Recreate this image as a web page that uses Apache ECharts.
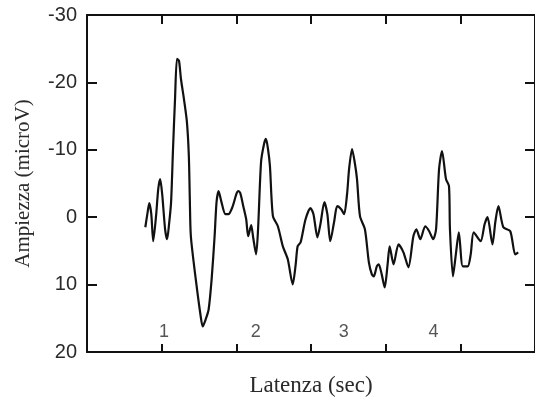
<!DOCTYPE html>
<html>
<head>
<meta charset="utf-8">
<script src="https://cdn.jsdelivr.net/npm/echarts@6/dist/echarts.min.js"></script>
<style>
  html, body { margin: 0; padding: 0; background: #fff; }
  #chart { width: 535px; height: 403px; }
</style>
</head>
<body>
<div id="chart"></div>
<script>
// Evoked potential trace: latency (axis ticks at 1 s steps) vs amplitude (microV, negative up)
const latency = [
  0.781, 0.808, 0.834, 0.861, 0.887, 0.927, 0.954, 0.980, 1.007, 1.046,
  1.073, 1.099, 1.126, 1.152, 1.179, 1.205, 1.232, 1.258, 1.298, 1.338,
  1.364, 1.377, 1.391, 1.457, 1.523, 1.550, 1.589, 1.629, 1.669, 1.709,
  1.735, 1.762, 1.801, 1.854, 1.894, 1.947, 2.000, 2.026, 2.053, 2.093,
  2.132, 2.159, 2.199, 2.225, 2.265, 2.291, 2.331, 2.371, 2.397, 2.424,
  2.450, 2.490, 2.556, 2.623, 2.689, 2.755, 2.795, 2.821, 2.861, 2.927,
  2.993, 3.033, 3.086, 3.126, 3.179, 3.219, 3.258, 3.311, 3.351, 3.404,
  3.444, 3.483, 3.510, 3.550, 3.589, 3.616, 3.656, 3.722, 3.775, 3.815,
  3.841, 3.881, 3.907, 3.947, 3.987, 4.026, 4.053, 4.106, 4.172, 4.238,
  4.305, 4.371, 4.411, 4.464, 4.530, 4.583, 4.636, 4.675, 4.715, 4.755,
  4.808, 4.848, 4.861, 4.901, 4.940, 4.980, 5.033, 5.099, 5.139, 5.179,
  5.272, 5.325, 5.364, 5.430, 5.470, 5.510, 5.576, 5.669, 5.735, 5.775
];
const amplitude = [
  1.49, -0.45, -2.08, -0.45, 3.57, -0.45, -4.17, -5.65, -3.42, 1.79,
  3.27, 1.04, -2.23, -10.12, -17.56, -23.51, -23.21, -20.54, -17.56, -14.14,
  -9.08, -2.68, 2.83, 9.23, 14.73, 16.22, 15.18, 13.69, 9.23, 2.83,
  -2.23, -3.87, -2.23, -0.45, -0.45, -1.49, -3.42, -3.87, -3.57, -1.64,
  0.30, 2.83, 1.19, 2.98, 5.51, 1.79, -8.18, -10.86, -11.61, -10.12,
  -7.59, -0.15, 1.34, 4.32, 6.25, 9.97, 6.99, 4.32, 3.72, 0.30,
  -1.34, -0.45, 2.98, 1.04, -2.23, -0.45, 3.57, 0.60, -1.64, -1.19,
  -0.45, -3.42, -7.14, -10.12, -7.89, -5.65, -0.15, 1.79, 6.70, 8.48,
  8.78, 7.29, 6.99, 8.48, 10.42, 6.99, 4.32, 6.99, 4.02, 5.21,
  7.44, 2.83, 1.79, 3.27, 1.34, 2.08, 3.27, 1.79, -7.14, -9.82,
  -5.65, -4.61, 1.79, 8.78, 5.51, 2.23, 7.29, 7.29, 5.51, 2.23,
  3.57, 1.04, 0.00, 4.02, 0.60, -1.64, 1.49, 2.08, 5.51, 5.21
];

// Wave numbers written under the peaks
const waveNames = ['1', '2', '3', '4'];
const waveNameX = [1.03, 2.26, 3.44, 4.64];
const waveNameY = [17.1, 17.1, 17.1, 17.1];

// Axis ranges and steps
const latencyRange = [0, 6, 1];
const amplitudeRange = [-30, 20, 10];

const trace = latency.map((t, i) => [t, amplitude[i]]);
const waveMarks = waveNames.map((n, i) => ({ value: [waveNameX[i], waveNameY[i]], name: n }));

const ink = '#111';
const axisLine = { show: true, onZero: false, lineStyle: { color: ink, width: 2 } };

const chart = echarts.init(document.getElementById('chart'), null, { renderer: 'canvas' });
chart.setOption({
  animation: false,
  backgroundColor: '#fff',
  grid: { left: 87, right: -5, top: 15, bottom: 51, containLabel: false },
  xAxis: [
    {
      type: 'value', position: 'bottom',
      min: latencyRange[0], max: latencyRange[1], interval: latencyRange[2],
      name: 'Latenza (sec)', nameLocation: 'middle', nameGap: 22,
      nameTextStyle: { fontFamily: 'Liberation Serif', fontSize: 23, color: '#2a2a2a' },
      axisLine: axisLine,
      axisTick: { show: true, inside: true, length: 8, lineStyle: { color: ink, width: 2 } },
      axisLabel: { show: false },
      splitLine: { show: false }
    },
    {
      type: 'value', position: 'top',
      min: latencyRange[0], max: latencyRange[1], interval: latencyRange[2],
      axisLine: axisLine,
      axisTick: { show: true, inside: true, length: 9, lineStyle: { color: ink, width: 2 } },
      axisLabel: { show: false },
      splitLine: { show: false }
    }
  ],
  yAxis: [
    {
      type: 'value', position: 'left', inverse: true,
      min: amplitudeRange[0], max: amplitudeRange[1], interval: amplitudeRange[2],
      name: 'Ampiezza (microV)', nameLocation: 'middle', nameGap: 53,
      nameTextStyle: { fontFamily: 'Liberation Serif', fontSize: 21, color: '#2a2a2a' },
      axisLine: axisLine,
      axisTick: { show: true, inside: true, length: 10, lineStyle: { color: ink, width: 2 } },
      axisLabel: { fontFamily: 'Liberation Sans', fontSize: 20, color: '#2a2a2a', margin: 10 },
      splitLine: { show: false }
    },
    {
      type: 'value', position: 'right', inverse: true,
      min: amplitudeRange[0], max: amplitudeRange[1], interval: amplitudeRange[2],
      axisLine: axisLine,
      axisTick: { show: true, inside: true, length: 10, lineStyle: { color: ink, width: 2 } },
      axisLabel: { show: false },
      splitLine: { show: false }
    }
  ],
  series: [
    {
      type: 'line',
      xAxisIndex: 0, yAxisIndex: 0,
      data: trace,
      showSymbol: false,
      smooth: 0.25,
      lineStyle: { color: ink, width: 2.2 }
    },
    {
      type: 'scatter',
      xAxisIndex: 0, yAxisIndex: 0,
      data: waveMarks,
      symbolSize: 0,
      label: {
        show: true, position: 'inside',
        formatter: p => p.name,
        fontFamily: 'Liberation Sans', fontSize: 18, color: '#2a2a2a'
      }
    }
  ]
});
</script>
</body>
</html>
